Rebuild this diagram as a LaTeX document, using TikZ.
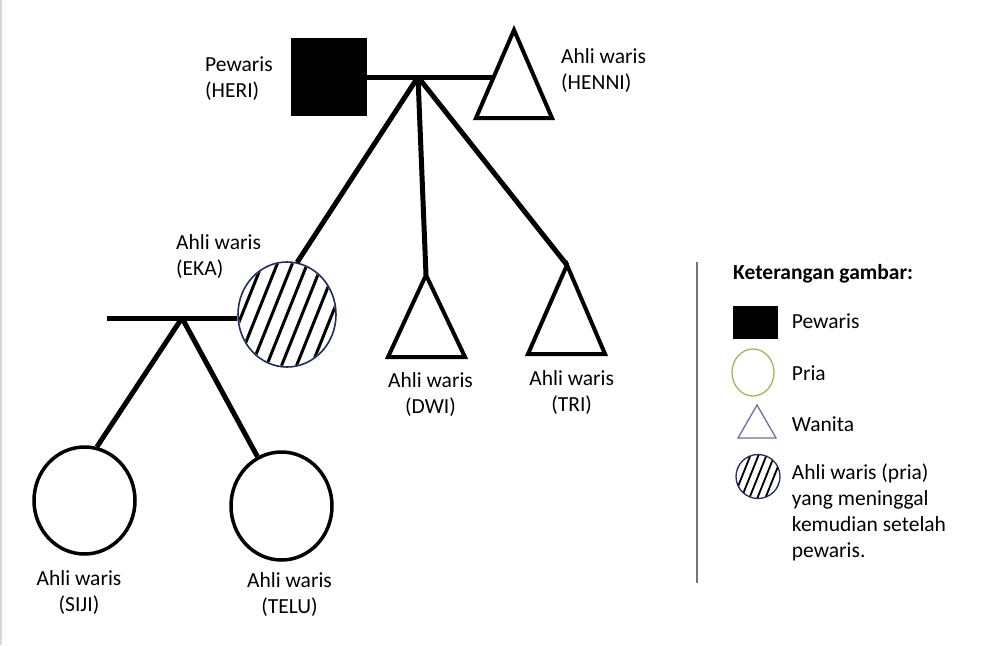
\documentclass[tikz,border=0pt]{standalone}
\usepackage{fontspec}
\setmainfont{Carlito}
\usetikzlibrary{shapes.geometric}
\definecolor{priaGreen}{HTML}{9BBB59}
\definecolor{wanitaBlue}{HTML}{6F70A8}
\definecolor{hatchNavy}{HTML}{1F2F5F}
\tikzset{
  conn/.style={line width=5pt, line cap=butt},
  shapeline/.style={line width=4pt, line join=miter},
  lbl/.style={inner sep=0pt, font=\fontsize{21.5}{26}\selectfont},
  hatchline/.style={line width=3pt},
}
\begin{document}
\begin{tikzpicture}[x=1pt,y=-1pt]
\useasboundingbox (0,0) rectangle (1000,645);
\fill[white] (0,0) rectangle (1000,645);
\draw[black!15, line width=2pt] (1,0) -- (1,645);

% ---- generation 1
\node[draw=black, fill=black, minimum width=75pt, minimum height=77pt, inner sep=0pt] (heri) at (328.5,77) {};
\coordinate (henniTop) at (514,30);
\coordinate (henniJoin) at (494,77);
\draw[shapeline] (henniTop) -- (476,118) -- (552,118) -- cycle;
\coordinate (top) at (418,77);
\draw[conn] (heri.east) -- (henniJoin);

\node[lbl, anchor=base west, align=left] (heriLbl) at (205,97) {Pewaris\\(HERI)};
\node[lbl, anchor=base west, align=left] (henniLbl) at (561,89) {Ahli waris\\(HENNI)};

% ---- generation 2
\node[ellipse, draw=hatchNavy, line width=1.6pt, minimum width=98pt, minimum height=105pt, inner sep=0pt] (eka) at (287,314.5) {};
\begin{scope}
  \clip (287,314.5) ellipse [x radius=48pt, y radius=51.5pt];
  \foreach \k in {-75,-60,...,75} {
    \draw[hatchline] (287+\k-28,384.5) -- (287+\k+28,244.5);
  }
\end{scope}
\draw[conn] (top) -- (eka.79);

\coordinate (dwiTop) at (426,275);
\draw[shapeline] (dwiTop) -- (388,357) -- (465,357) -- cycle;
\draw[conn] (top) -- (dwiTop);

\coordinate (triTop) at (567,265);
\draw[shapeline] (triTop) -- (528,354) -- (605,354) -- cycle;
\draw[conn] (top) -- (triTop);

\node[lbl, anchor=base west, align=left] (ekaLbl) at (176,275) {Ahli waris\\(EKA)};
\node[lbl, anchor=base, align=center] (dwiLbl) at (430.5,413.3) {Ahli waris\\(DWI)};
\node[lbl, anchor=base, align=center] (triLbl) at (571.7,411.7) {Ahli waris\\(TRI)};

% ---- generation 3
\coordinate (ekaL) at (107,318);
\coordinate (ekaB) at (182,318);
\draw[conn] (ekaL) -- (ekaL -| eka.west);

\node[ellipse, draw=black, line width=3.5pt, minimum width=101pt, minimum height=107pt, inner sep=0pt] (siji) at (84.5,500.5) {};
\node[ellipse, draw=black, line width=3.5pt, minimum width=101pt, minimum height=108pt, inner sep=0pt] (telu) at (281.5,506) {};
\draw[conn] (ekaB) -- (siji.77);
\draw[conn] (ekaB) -- (telu.116);

\node[lbl, anchor=base, align=center] (sijiLbl) at (79,611) {Ahli waris\\(SIJI)};
\node[lbl, anchor=base, align=center] (teluLbl) at (289.5,613) {Ahli waris\\(TELU)};

% ---- legend
\draw[black!55, line width=1.5pt] (697,262) -- (697,583);
\node[lbl, anchor=base west, font=\fontsize{21.5}{26}\selectfont\bfseries] (legTitle) at (733,279.3) {Keterangan gambar:};

\node[draw=black, fill=black, minimum width=44pt, minimum height=32pt, inner sep=0pt] (legSq) at (755,322) {};
\node[lbl, anchor=base west] (legSqLbl) at (791.7,328.3) {Pewaris};

\node[ellipse, draw=priaGreen, line width=1.3pt, minimum width=42pt, minimum height=47pt, inner sep=0pt] (legPria) at (753,372.5) {};
\node[lbl, anchor=base west] (legPriaLbl) at (791.7,380) {Pria};

\coordinate (legTriTop) at (757,405);
\draw[wanitaBlue, line width=1.3pt] (legTriTop) -- (738,438) -- (776,438) -- cycle;
\node[lbl, anchor=base west] (legTriLbl) at (791.7,431) {Wanita};

\node[circle, draw=hatchNavy, line width=1.3pt, minimum size=44pt, inner sep=0pt] (legHatch) at (758,476.5) {};
\begin{scope}
  \clip (758,476.5) circle [radius=21.5pt];
  \foreach \k in {-32,-24,...,32} {
    \draw[line width=1.8pt] (758+\k-12,506.5) -- (758+\k+12,446.5);
  }
\end{scope}
\node[lbl, anchor=base west, align=left] (legHatchLbl) at (791.7,557) {Ahli waris (pria)\\yang meninggal\\kemudian setelah\\pewaris.};
\end{tikzpicture}
\end{document}
